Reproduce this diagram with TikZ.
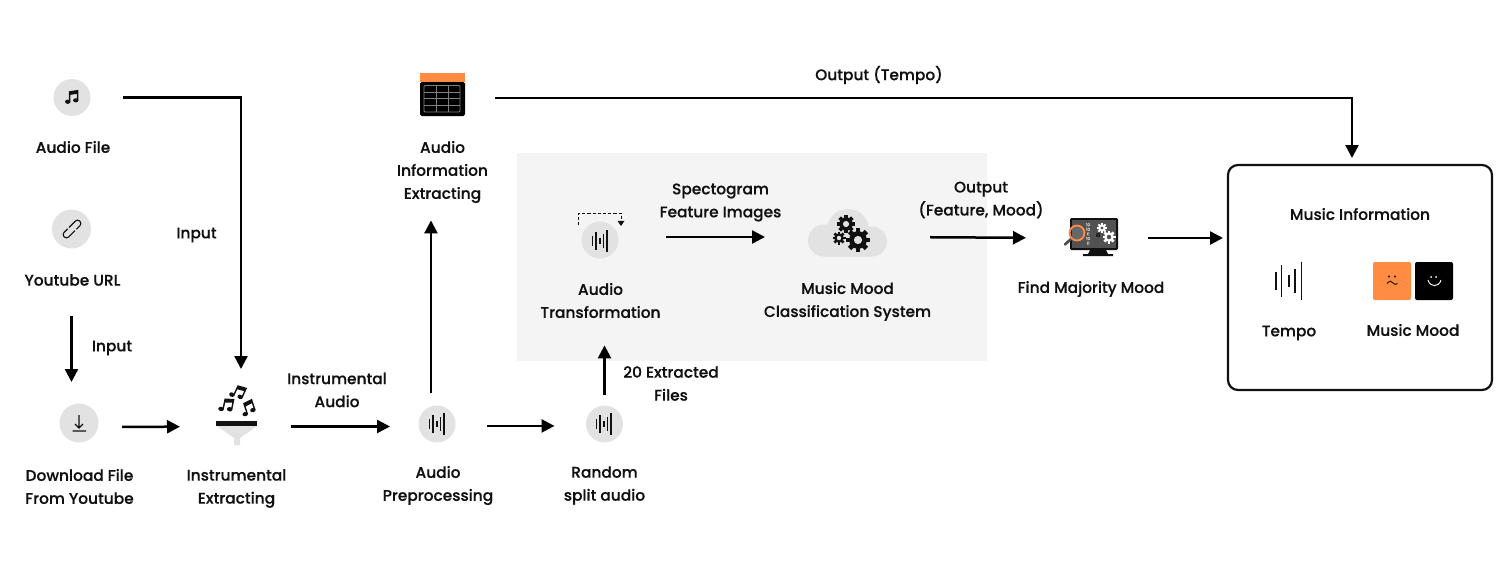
\documentclass[tikz,border=0pt]{standalone}
\usepackage{fontspec}
\setmainfont{Poppins}[UprightFont=* Medium, UprightFeatures={FakeBold=0.35}]
\usetikzlibrary{arrows.meta}
\definecolor{ink}{HTML}{111111}
\definecolor{disc}{HTML}{E2E2E2}
\definecolor{pale}{HTML}{F4F4F4}
\definecolor{tone}{HTML}{FF8C42}
\tikzset{
	icon node/.style = {
		circle,
		fill = disc,
		inner sep = 0pt,
		outer sep = 0pt,
		minimum size = 18.5pt
	},
	big icon node/.style = {
		icon node,
		minimum size = 19.5pt
	},
	holder node/.style = {
		rectangle,
		inner sep = 0pt,
		outer sep = 0pt
	},
	text node/.style = {
		font = \fontsize{7.7}{11.5}\selectfont,
		align = center,
		inner sep = 0pt,
		text = ink
	},
	flow line/.style = {
		line width = 1.25pt,
		draw = black,
		-{Triangle[length=6.5pt,width=6.5pt]}
	},
	wave/.pic = {
		\foreach \dx/\hh in {-7.3/5,-4/8.7,0/3.3,3.3/6.7,7/10.8}
			\draw[line width=.65pt, ink] (\dx,-\hh) -- (\dx,\hh);
	},
	notes/.pic = {
		\fill[ink] (-4.5,5) ellipse (2.8 and 2.2);
		\fill[ink] (4,3.5) ellipse (2.8 and 2.2);
		\fill[ink] (-3.2,5) -- (-3.2,-6) -- (6.6,-7.5) -- (6.6,3.5) -- (5.2,3.5) -- (5.2,-3.4) -- (-1.8,-2.2) -- (-1.8,5) -- cycle;
	},
	pics/gear/.style args = {#1/#2/#3}{code = {
		\fill[#2] (0,0) circle (#1*.74);
		\foreach \ang in {0,45,...,315}
			\fill[#2, rotate=\ang] (-#1*.2,0) rectangle (#1*.2,#1);
		\fill[#3] (0,0) circle (#1*.34);
	}}
}
\begin{document}
\begin{tikzpicture}[x=0.5pt, y=-0.5pt]
	\useasboundingbox (0,0) rectangle (1500,584);

	% grey panel behind the classifier
	\node at (752,257) [holder node, fill=pale, minimum width=235pt, minimum height=104pt] (panel) {};

	% source icons
	\node at (72,97.5)  [icon node] (audiofile) {};
	\node at (71.5,229) [big icon node] (youtube) {};
	\node at (79,423)   [big icon node] (download) {};
	\node at (437,424)  [icon node] (preproc) {};
	\node at (604.5,424) [icon node] (split) {};
	\node at (600,240)  [icon node] (transform) {};

	\pic at (72,97) [scale=.95] {notes};
	\begin{scope}[shift={(72,229)}, rotate=45, line width=.55pt, draw=ink]
		\draw[rounded corners=1.4pt] (-3,-3.2) -- (-11,-3.2) -- (-11,3.2) -- (1,3.2);
		\draw[rounded corners=1.4pt] (3,3.2) -- (11,3.2) -- (11,-3.2) -- (-1,-3.2);
	\end{scope}
	\draw[line width=.65pt, ink] (79,415) -- (79,428) (75,424) -- (79,428) -- (83,424) (72.7,431) -- (86,431);
	\pic at (437,424) {wave};
	\pic at (604,424) {wave};
	\pic at (600,241) {wave};

	% funnel
	\node at (236.5,426.5) [holder node, minimum width=20.5pt, minimum height=20pt] (funnel) {};
	\fill[disc] (217,426) -- (257,426) -- (240,438) -- (240,445) -- (234,445) -- (234,438) -- cycle;
	\fill[ink] (216,420.5) rectangle (257,426);
	\pic at (238,392) [rotate=-25] {notes};
	\pic at (226.5,405) [rotate=-12] {notes};
	\pic at (248,408) [rotate=18] {notes};
	\coordinate (funneltop) at (241,369);

	% table
	\node at (442.5,99) [holder node, fill=black, rounded corners=.8pt, minimum width=22.5pt, minimum height=17pt] (table) {};
	\fill[tone] (420,73) rectangle (465,82);
	\draw[line width=.4pt, gray, rounded corners=.5pt] (424,85.5) rectangle (460,112);
	\draw[line width=.4pt, gray] (424,92) -- (460,92) (424,98.8) -- (460,98.8) (424,105.5) -- (460,105.5) (436,85.5) -- (436,112) (448.5,85.5) -- (448.5,112);

	% dashed loop over the transformation
	\draw[line width=.5pt, dash pattern=on 1.6pt off 1pt, ink, -{Triangle[length=2.6pt,width=3.4pt]}] (578.5,225) -- (578.5,213) -- (621,213) -- (621,226);

	% cloud
	\node at (848,237) [holder node, minimum width=40pt, minimum height=20pt] (cloud) {};
	\fill[disc] (824,240.5) circle (16);
	\fill[disc] (848,230) circle (21);
	\fill[disc] (872,241.5) circle (15);
	\fill[disc] (824,240) rectangle (872,256.5);
	\pic at (858,240) {gear={12/ink/disc}};
	\pic at (846,224) {gear={9/ink/disc}};
	\pic at (839,238) {gear={6.5/ink/disc}};

	% monitor
	\node at (1091.5,238) [holder node, minimum width=26.5pt, minimum height=20pt] (monitor) {};
	\fill[ink, rounded corners=.7pt] (1070,218) rectangle (1118,250);
	\fill[black!68] (1072,220) rectangle (1116,248);
	\fill[ink] (1090,250) -- (1106,250) -- (1108,254) -- (1113,254) -- (1113,256) -- (1083,256) -- (1083,254) -- (1088,254) -- cycle;
	\node at (1088,234) [font=\fontsize{2}{2.3}\selectfont, align=center, inner sep=0pt, text=white!85!black] (digits) {10\\10\\11\\10\\11};
	\pic at (1102,228) {gear={5/white/black!68}};
	\pic at (1109,237) {gear={6.5/white/black!68}};
	\pic at (1098,235) {gear={2.2/ink/black!68}};
	\draw[line width=1.3pt, black!70, line cap=round] (1071,239) -- (1065,244.5);
	\draw[line width=.9pt, tone, fill=white, fill opacity=.12] (1077,233) circle (7.5);

	% result box
	\node at (1360,277.5) [holder node, draw=ink, line width=1.1pt, rounded corners=5pt, minimum width=132pt, minimum height=112.5pt] (result) {};
	\coordinate (resulttop) at (1352,158);
	\pic at (1289,281) [scale=1.8] {wave};
	\node at (1392,281) [holder node, fill=tone, rounded corners=1pt, minimum size=19pt] (sadbox) {};
	\node at (1434,281) [holder node, fill=black, rounded corners=1pt, minimum size=19pt] (happybox) {};
	\fill[ink] (1389,276.5) circle (1.1) (1395,276.5) circle (1.1);
	\draw[line width=.45pt, ink] (1387,283.5) .. controls (1389.5,280.5) and (1392,280.5) .. (1393,283) .. controls (1394,285) and (1396,284.5) .. (1397.5,283.5);
	\fill[white] (1431,277) circle (1) (1436,277) circle (1);
	\draw[line width=.45pt, white] (1428,280) .. controls (1430,287.5) and (1439,287.5) .. (1441,280);

	% labels
	\node at (73,147)    [text node] (audiofilelabel) {Audio File};
	\node at (72.5,280)  [text node] (youtubelabel) {Youtube URL};
	\node at (196.5,235) [text node] (inputa) {Input};
	\node at (112,348)   [text node] (inputb) {Input};
	\node at (79.5,486.5) [text node] (downloadlabel) {Download File\\From Youtube};
	\node at (236.5,488.5) [text node] (funnellabel) {Instrumental\\Extracting};
	\node at (337,390)   [text node] (instrumental) {Instrumental\\Audio};
	\node at (438,485.5) [text node] (preproclabel) {Audio\\Preprocessing};
	\node at (604.5,485.5) [text node] (splitlabel) {Random\\split audio};
	\node at (671,383.5) [text node] (extracted) {20 Extracted\\Files};
	\node at (442.5,172) [text node] (infolabel) {Audio\\Information\\Extracting};
	\node at (879,75)    [text node] (outputtempo) {Output (Tempo)};
	\node at (720.5,202.5) [text node] (spectogram) {Spectogram\\Feature Images};
	\node at (600.5,300.5) [text node] (transformlabel) {Audio\\Transformation};
	\node at (847.5,301.5) [text node] (cloudlabel) {Music Mood\\Classification System};
	\node at (981,200)   [text node] (outputfeature) {Output\\(Feature, Mood)};
	\node at (1091,289)  [text node] (monitorlabel) {Find Majority Mood};
	\node at (1360,214)  [text node] (resultlabel) {Music Information};
	\node at (1289,333)  [text node] (tempolabel) {Tempo};
	\node at (1413,330)  [text node] (moodlabel) {Music Mood};

	% connectors
	\draw[flow line, shorten <=16.25pt] (audiofile.east) -| (funneltop);
	\draw[flow line, shorten <=33.75pt, shorten >=10.75pt] (youtube.south) -- (youtube.south |- download.north);
	\draw[flow line, shorten <=12pt, shorten >=18pt] (download.-12) -- (funnel.west);
	\draw[flow line, shorten <=17pt, shorten >=14.25pt] (funnel.east) -- (funnel.east -| preproc.west);
	\draw[flow line, shorten <=6.75pt, shorten >=8.5pt] (preproc.109) -- (preproc.109 |- infolabel.south);
	\draw[flow line, shorten <=16pt, shorten >=15.75pt] (preproc.-6) -- (preproc.-6 -| split.west);
	\draw[flow line, shorten <=5.25pt, shorten >=13.5pt] (split.north) -- (split.north |- transformlabel.south);
	\draw[flow line, shorten <=23.75pt, shorten >=21.5pt] (transform.east |- cloud.west) -- (cloud.west);
	\draw[flow line, shorten <=21pt, shorten >=19.5pt] (cloud.east) -- (monitor.west);
	\draw[flow line, shorten <=15pt, shorten >=2.5pt] (monitor.east) -- (monitor.east -| result.west);
	\draw[flow line, shorten <=15pt] ([yshift=.5pt]table.east) -| (resulttop);
\end{tikzpicture}
\end{document}
